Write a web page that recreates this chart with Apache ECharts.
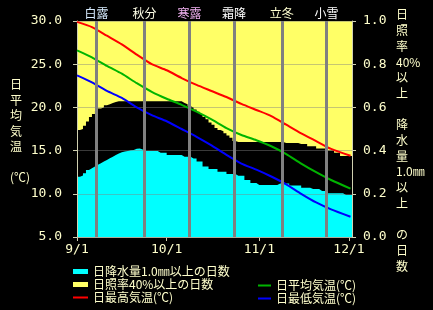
<!DOCTYPE html>
<html>
<head>
<meta charset="utf-8">
<script src="https://cdn.jsdelivr.net/npm/echarts@6/dist/echarts.min.js"></script>
<style>
html,body{margin:0;padding:0;background:#000;}
#c{width:433px;height:310px;}
</style>
</head>
<body>
<div id="c"></div>
<script>
// ---- data ----
const dateTickDays = [0, 30, 61, 91];
const dateTickLabels = ['9/1', '10/1', '11/1', '12/1'];

const termNames = ['白露', '秋分', '寒露', '霜降', '立冬', '小雪'];
const termDays = [6.5, 22.6, 37.6, 52.5, 68.5, 83.5];

const tempDays = [0, 5, 10, 15, 20, 25, 30, 35, 40, 45, 50, 55, 60, 65, 70, 75, 80, 85, 91.5];
const tempMax  = [29.9, 29.3, 28.3, 27.3, 26.1, 25.0, 24.3, 23.4, 22.6, 21.9, 21.2, 20.4, 19.7, 19.0, 18.0, 17.0, 16.1, 15.2, 14.4];
const tempMean = [26.6, 25.8, 24.8, 23.9, 22.8, 21.8, 21.0, 20.3, 19.5, 18.6, 17.6, 16.8, 16.2, 15.5, 14.6, 13.5, 12.5, 11.6, 10.6];
const tempMin  = [23.7, 22.9, 21.9, 21.1, 20.0, 19.1, 18.4, 17.5, 16.6, 15.6, 14.5, 13.5, 12.8, 12.0, 11.1, 10.0, 9.0, 8.2, 7.35];

// daily fraction (9/1 .. 12/1) of days with sunshine ratio >= 40%
const sunRatio = [
  0.505, 0.50, 0.485, 0.465, 0.445, 0.43, 0.415, 0.405, 0.40, 0.39,
  0.385, 0.38, 0.375, 0.372, 0.372, 0.372, 0.372, 0.372, 0.372, 0.372,
  0.372, 0.372, 0.372, 0.372, 0.372, 0.372, 0.372, 0.372, 0.372, 0.372,
  0.372, 0.372, 0.372, 0.372, 0.372, 0.38, 0.385, 0.395, 0.40, 0.41,
  0.42, 0.43, 0.445, 0.455, 0.47, 0.48, 0.495, 0.505, 0.51, 0.52,
  0.53, 0.54, 0.555, 0.56, 0.56, 0.56, 0.56, 0.56, 0.56, 0.56,
  0.56, 0.56, 0.56, 0.56, 0.56, 0.56, 0.56, 0.56, 0.56, 0.565,
  0.565, 0.565, 0.565, 0.565, 0.57, 0.57, 0.57, 0.58, 0.58, 0.58,
  0.59, 0.59, 0.59, 0.60, 0.60, 0.60, 0.61, 0.61, 0.625, 0.625,
  0.625, 0.625
];
// daily fraction of days with precipitation >= 1.0mm
const rainRatio = [
  0.279, 0.285, 0.295, 0.31, 0.318, 0.326, 0.334, 0.341, 0.35, 0.356,
  0.365, 0.372, 0.38, 0.387, 0.392, 0.396, 0.398, 0.402, 0.403, 0.408,
  0.41, 0.405, 0.398, 0.398, 0.398, 0.398, 0.398, 0.39, 0.39, 0.39,
  0.38, 0.38, 0.38, 0.38, 0.38, 0.372, 0.372, 0.372, 0.364, 0.364,
  0.349, 0.349, 0.326, 0.326, 0.315, 0.315, 0.315, 0.302, 0.302, 0.302,
  0.292, 0.292, 0.292, 0.283, 0.283, 0.283, 0.264, 0.264, 0.25, 0.25,
  0.241, 0.241, 0.241, 0.241, 0.241, 0.241, 0.241, 0.248, 0.248, 0.248,
  0.248, 0.238, 0.238, 0.238, 0.238, 0.228, 0.228, 0.228, 0.222, 0.222,
  0.222, 0.213, 0.213, 0.202, 0.202, 0.202, 0.202, 0.202, 0.202, 0.194,
  0.194, 0.194
];

// ---- build ----
const FONT = '"Noto Sans CJK JP", sans-serif';
const NUMFONT = '"DejaVu Sans Mono", monospace';
const TXT = '#ffffcc';
const AX = '#d0d0b0';
const termColors = ['#d8ecff', '#ffffe8', '#f0b0f0', '#ffffff', '#ffffd0', '#ffffff'];
const noSym = {opacity: 0};

function stepData(arr, f) {
  const out = arr.map((v, i) => [i, f(v)]);
  out.push([arr.length, f(arr[arr.length - 1])]);
  return out;
}
function lineData(vals) { return tempDays.map((d, i) => [d, vals[i]]); }

const chart = echarts.init(document.getElementById('c'), null, {renderer: 'canvas'});
chart.setOption({
  backgroundColor: '#000',
  animation: false,
  textStyle: {fontFamily: FONT},
  grid: {left: 77, right: 81, top: 21, bottom: 73},
  xAxis: {
    type: 'value', min: 0, max: 92,
    axisLine: {show: true, lineStyle: {color: AX, width: 1}},
    axisTick: {show: true, customValues: dateTickDays, length: 4, lineStyle: {color: AX}},
    axisLabel: {
      customValues: dateTickDays, color: TXT, fontFamily: NUMFONT, fontSize: 13, margin: 6,
      formatter: v => dateTickLabels[dateTickDays.indexOf(v)] || ''
    },
    splitLine: {show: false}
  },
  yAxis: [
    {
      type: 'value', min: 5, max: 30, interval: 5, position: 'left', z: 2,
      axisLine: {show: true, lineStyle: {color: AX}},
      axisTick: {show: true, length: 4, lineStyle: {color: AX}},
      axisLabel: {color: TXT, fontFamily: NUMFONT, fontSize: 13, margin: 15, formatter: v => v.toFixed(1)},
      splitLine: {show: true, lineStyle: {color: 'rgba(128,128,128,0.45)', width: 1}}
    },
    {
      type: 'value', min: 0, max: 1, interval: 0.2, position: 'right', z: 2,
      axisLine: {show: true, lineStyle: {color: AX}},
      axisTick: {show: true, length: 4, lineStyle: {color: AX}},
      axisLabel: {color: TXT, fontFamily: NUMFONT, fontSize: 13, margin: 11, formatter: v => v.toFixed(1)},
      splitLine: {show: false}
    }
  ],
  legend: [
    {
      orient: 'vertical', left: 72, top: 265, padding: 0, itemGap: 0, itemWidth: 15, itemHeight: 5,
      textStyle: {color: TXT, fontSize: 12, lineHeight: 13, fontFamily: FONT},
      data: [
        {name: '日降水量1.0㎜以上の日数', icon: 'rect'},
        {name: '日照率40%以上の日数', icon: 'rect'},
        {name: '日最高気温(℃)', itemStyle: noSym}
      ]
    },
    {
      orient: 'vertical', left: 257, top: 279, padding: 0, itemGap: 0, itemWidth: 13, itemHeight: 5,
      textStyle: {color: TXT, fontSize: 12, lineHeight: 13, fontFamily: FONT},
      data: [{name: '日平均気温(℃)', itemStyle: noSym}, {name: '日最低気温(℃)', itemStyle: noSym}]
    }
  ],
  series: [
    {
      name: '日照率40%以上の日数', type: 'line', yAxisIndex: 1, step: 'end', z: 1,
      symbol: 'none', itemStyle: {color: '#ffff66'},
      lineStyle: {width: 0, color: '#ffff66'},
      areaStyle: {origin: 'end', color: '#ffff66', opacity: 1},
      data: stepData(sunRatio, v => 1 - v),
      markLine: {
        silent: true, symbol: 'none', z: 5,
        lineStyle: {color: '#808080', width: 3, type: 'solid'},
        label: {show: true, position: 'end', distance: 2, fontSize: 12, fontFamily: FONT, formatter: p => p.name},
        data: termDays.map((d, i) => ({xAxis: d, name: termNames[i], label: {color: termColors[i]}}))
      }
    },
    {
      name: '日降水量1.0㎜以上の日数', type: 'line', yAxisIndex: 1, step: 'end', z: 1,
      symbol: 'none', itemStyle: {color: '#00ffff'},
      lineStyle: {width: 0, color: '#00ffff'},
      areaStyle: {origin: 'start', color: '#00ffff', opacity: 1},
      data: stepData(rainRatio, v => v)
    },
    {
      name: '日最高気温(℃)', type: 'line', yAxisIndex: 0, z: 3, symbol: 'none', smooth: 0.2,
      itemStyle: {color: '#ff0000'}, lineStyle: {color: '#ff0000', width: 2},
      data: lineData(tempMax)
    },
    {
      name: '日平均気温(℃)', type: 'line', yAxisIndex: 0, z: 3, symbol: 'none', smooth: 0.2,
      itemStyle: {color: '#00b400'}, lineStyle: {color: '#00b400', width: 2},
      data: lineData(tempMean)
    },
    {
      name: '日最低気温(℃)', type: 'line', yAxisIndex: 0, z: 3, symbol: 'none', smooth: 0.2,
      itemStyle: {color: '#0000ff'}, lineStyle: {color: '#0000ff', width: 2},
      data: lineData(tempMin)
    }
  ],
  graphic: [
    {
      type: 'text', left: 10, top: 77,
      style: {text: '日\n平\n均\n気\n温\n\n(℃)', fill: TXT, fontSize: 12, lineHeight: 15.5, fontFamily: FONT, align: 'center'}
    },
    {
      type: 'text', left: 396, top: 7,
      style: {text: '日\n照\n率\n40%\n以\n上\n\n降\n水\n量\n1.0㎜\n以\n上\n\nの\n日\n数', fill: TXT, fontSize: 12, lineHeight: 15.7, fontFamily: FONT, align: 'center'}
    }
  ]
});
</script>
</body>
</html>
